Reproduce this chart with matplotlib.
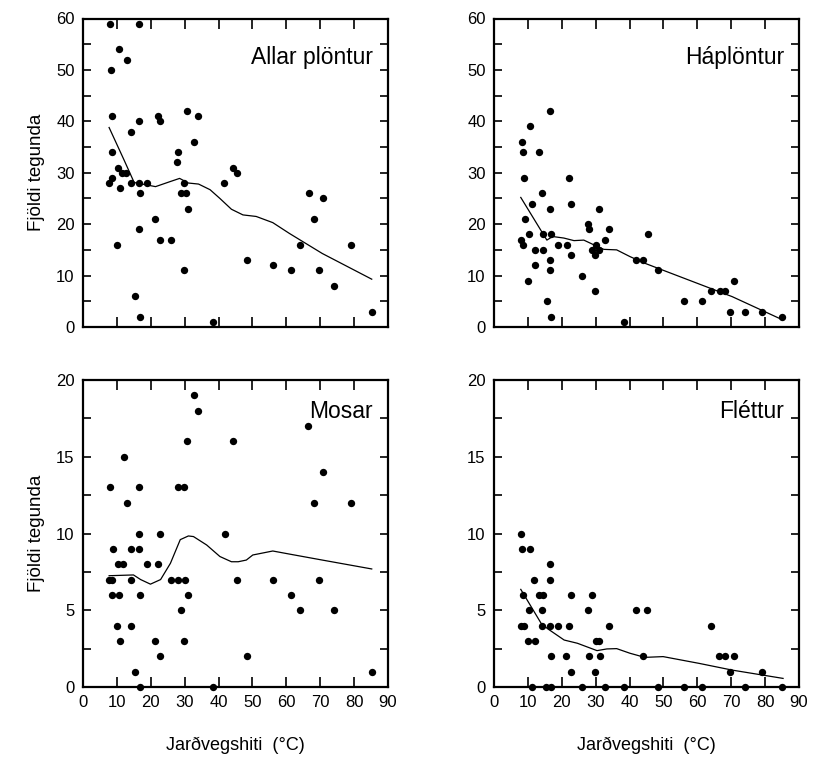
import matplotlib
matplotlib.use("Agg")
import matplotlib.pyplot as plt
from matplotlib.ticker import MultipleLocator

plt.rcParams['font.family'] = ['Liberation Sans', 'DejaVu Sans']

# ---------------- data ----------------
allar_x = [8, 16.5, 10.5, 13.1, 8.2, 8.7, 22.2, 22.6, 16.5, 14.1, 30.8, 33.8, 32.8, 27.9, 27.7, 8.7, 10.2,
           44.3, 45.3, 8.5, 7.7, 11.5, 12.8, 11, 14.3, 16.5, 18.8, 16.7, 29.7, 28.9, 30.5, 31.1, 41.6, 21.1,
           16.5, 22.6, 26, 9.9, 29.7, 15.4, 16.7, 38.5, 66.7, 70.8, 68.2, 64.1, 79.2, 48.4, 56.2, 61.5, 69.6,
           74.2, 85.4]
allar_y = [59, 59, 54, 52, 50, 41, 41, 40, 40, 38, 42, 41, 36, 34, 32, 34, 31,
           31, 30, 29, 28, 30, 30, 27, 28, 28, 28, 26, 28, 26, 26, 23, 28, 21,
           19, 17, 17, 16, 11, 6, 2, 1, 26, 25, 21, 16, 16, 13, 12, 11, 11,
           8, 3]
allar_line_x = [7.7, 12.1, 15.1, 21.4, 25.8, 28.5, 31.1, 34.1, 37.5, 40.4, 43.8, 47.2, 51.1, 56, 60.9, 70.6, 85.2]
allar_line_y = [38.8, 32.5, 28.1, 27.3, 28.3, 28.9, 28.0, 27.8, 26.7, 25.0, 22.9, 21.8, 21.5, 20.3, 18.2, 14.3, 9.3]

hap_x = [16.6, 10.7, 8.3, 8.5, 13.2, 8.8, 22.2, 14.2, 11.2, 22.7, 16.5, 30.9, 9, 27.8, 28, 33.8, 10.4, 14.4,
         16.8, 7.9, 8.7, 18.9, 21.4, 30.1, 32.8, 12, 14.4, 29, 30.9, 29.9, 22.6, 16.5, 41.8, 44, 12.2, 16.5,
         10, 26, 29.7, 15.5, 16.8, 38.5, 45.5, 48.4, 64.1, 66.6, 68.1, 70.7, 56, 61.5, 69.6, 74.1, 79, 85.1]
hap_y = [42, 39, 36, 34, 34, 29, 29, 26, 24, 24, 23, 23, 21, 20, 19, 19, 18, 18,
         18, 17, 16, 16, 16, 16, 17, 15, 15, 15, 15, 14, 14, 13, 13, 13, 12, 11,
         9, 10, 7, 5, 2, 1, 18, 11, 7, 7, 7, 9, 5, 5, 3, 3, 3, 2]
hap_line_x = [7.9, 15.6, 17.3, 20.6, 23.6, 26.5, 29.4, 32.4, 36.2, 40.1, 44.5, 70.3, 84.8]
hap_line_y = [25.2, 16.9, 17.6, 17.3, 16.8, 16.9, 16.0, 15.1, 15.0, 13.7, 12.4, 5.9, 1.5]

mosar_x = [32.8, 33.8, 30.8, 44.3, 12.1, 8, 16.5, 27.9, 29.9, 13.1, 16.5, 22.6, 41.9, 8.9, 14.3, 16.5, 10.2,
           11.8, 18.8, 22.2, 7.7, 8.5, 14.1, 26, 27.9, 30.2, 8.5, 10.5, 16.7, 31.1, 29, 9.9, 14.3, 11, 21.1,
           29.7, 22.6, 15.4, 16.8, 38.5, 66.5, 70.8, 68.2, 79.2, 45.3, 56.2, 69.6, 61.5, 64.1, 74.2, 48.4, 85.4]
mosar_y = [19, 18, 16, 16, 15, 13, 13, 13, 13, 12, 10, 10, 10, 9, 9, 9, 8,
           8, 8, 8, 7, 7, 7, 7, 7, 7, 6, 6, 6, 6, 5, 4, 4, 3, 3,
           3, 2, 1, 0, 0, 17, 14, 12, 12, 7, 7, 7, 6, 5, 5, 2, 1]
mosar_line_x = [7.7, 14.9, 17, 19.9, 22.9, 25.8, 28.7, 31.1, 32.6, 36.5, 40.4, 43.8, 45.8, 48.2, 50.1, 56, 60.9, 70.6, 85.2]
mosar_line_y = [7.25, 7.3, 7.0, 6.7, 7.0, 8.06, 9.6, 9.84, 9.8, 9.25, 8.5, 8.16, 8.16, 8.27, 8.6, 8.86, 8.66, 8.27, 7.69]

flet_x = [8.1, 8.3, 10.7, 16.6, 11.7, 16.6, 8.7, 13.2, 14.4, 22.6, 29, 10.3, 14.2, 27.8, 41.8, 7.9, 8.8, 14.2,
          16.6, 19, 22.2, 33.8, 10, 12.2, 30.1, 30.9, 16.8, 21.2, 28, 31.2, 44, 22.6, 29.7, 11.2, 15.4, 16.8,
          26, 32.8, 38.4, 45.2, 64.1, 66.4, 68.1, 70.8, 69.6, 79, 48.4, 56, 61.5, 74.1, 85.1]
flet_y = [10, 9, 9, 8, 7, 7, 6, 6, 6, 6, 6, 5, 5, 5, 5, 4, 4, 4,
          4, 4, 4, 4, 3, 3, 3, 3, 2, 2, 2, 2, 2, 1, 1, 0, 0, 0,
          0, 0, 0, 5, 4, 2, 2, 2, 1, 1, 0, 0, 0, 0, 0]
flet_line_x = [7.9, 13.9, 15.8, 20.7, 24.6, 30.4, 33.3, 36.2, 40.1, 44.5, 49.9, 60.5, 70.3, 85.3]
flet_line_y = [6.36, 4.15, 3.8, 3.06, 2.85, 2.37, 2.48, 2.5, 2.2, 1.93, 1.98, 1.54, 1.1, 0.56]

panels = [
    ("Allar plöntur", allar_x, allar_y, allar_line_x, allar_line_y, 60),
    ("Háplöntur", hap_x, hap_y, hap_line_x, hap_line_y, 60),
    ("Mosar", mosar_x, mosar_y, mosar_line_x, mosar_line_y, 20),
    ("Fléttur", flet_x, flet_y, flet_line_x, flet_line_y, 20),
]

# ---------------- layout ----------------
fig = plt.figure(figsize=(8.15, 7.69), dpi=100)
W, H = 815, 769
boxes = [
    (83, 18.5, 305, 308.5),
    (494, 18.5, 305, 308.5),
    (83, 380, 305, 307),
    (494, 380, 305, 307),
]

for i, (name, xs, ys, lx, ly, ymax) in enumerate(panels):
    l, t, w, h = boxes[i]
    ax = fig.add_axes([l / W, 1 - (t + h) / H, w / W, h / H])
    ax.scatter(xs, ys, s=28, color='black', zorder=5, clip_on=False, linewidths=0)
    ax.plot(lx, ly, color='black', lw=0.9, zorder=4)
    ax.set_xlim(0, 90)
    ax.set_ylim(0, ymax)
    ax.xaxis.set_major_locator(MultipleLocator(10))
    if ymax == 60:
        ax.yaxis.set_major_locator(MultipleLocator(10))
        ax.yaxis.set_minor_locator(MultipleLocator(5))
    else:
        ax.yaxis.set_major_locator(MultipleLocator(5))
        ax.yaxis.set_minor_locator(MultipleLocator(2.5))
    ax.tick_params(axis='both', which='both', direction='in', top=True, right=True,
                   width=1.2, labelsize=12, colors='black')
    ax.tick_params(axis='x', which='major', length=7, pad=6)
    ax.tick_params(axis='y', which='both', length=6, pad=6)
    for sp in ax.spines.values():
        sp.set_linewidth(1.6)
    if i < 2:
        ax.tick_params(axis='x', labelbottom=False)
    else:
        ax.set_xlabel("Jarðvegshiti  (°C)", fontsize=13, labelpad=19)
    if i % 2 == 0:
        ax.set_ylabel("Fjöldi tegunda", fontsize=13.5, labelpad=8)
    ty = 0.875 if ymax == 60 else 0.896
    ax.text(0.951, ty, name, transform=ax.transAxes, ha='right', va='center', fontsize=16.5)

fig.savefig("out.png", dpi=100)
